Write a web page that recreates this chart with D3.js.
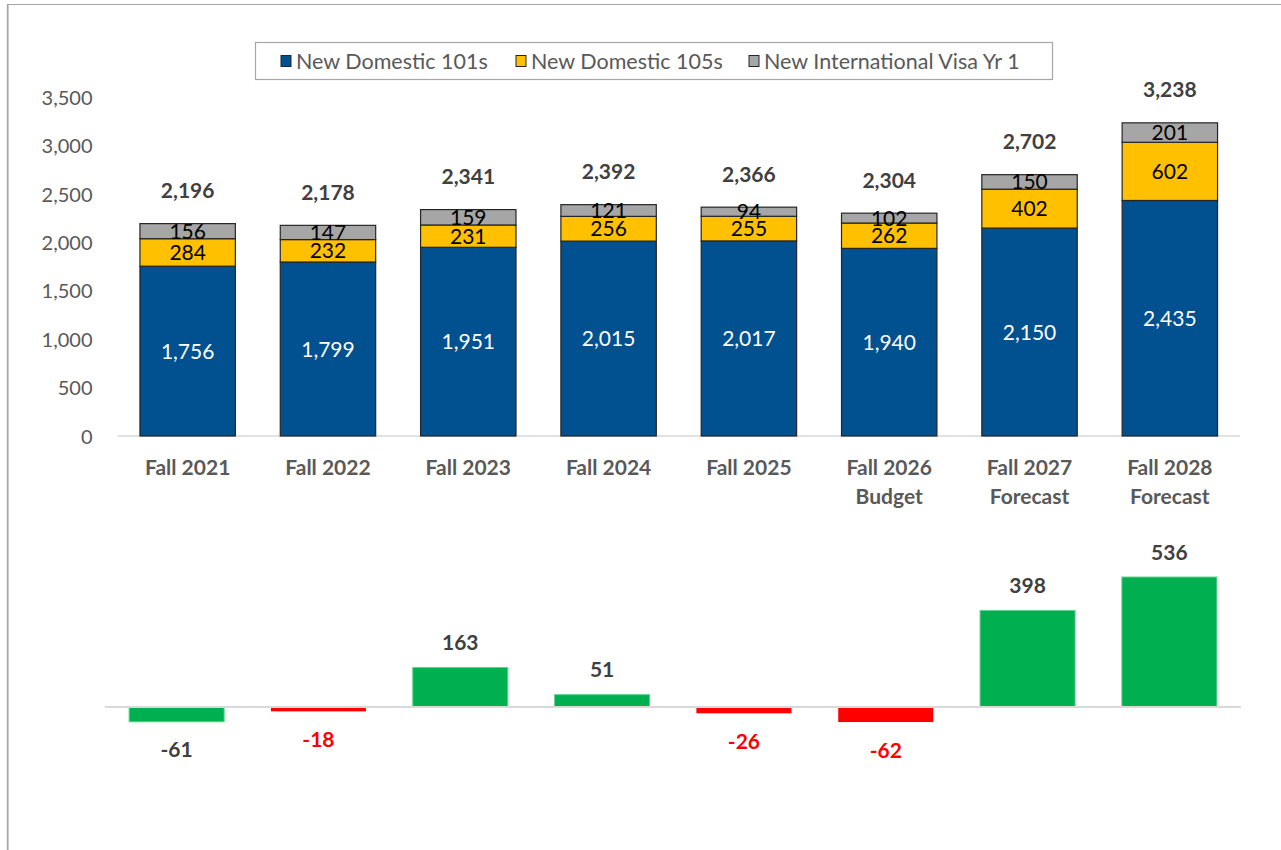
<!DOCTYPE html>
<html>
<head>
<meta charset="utf-8">
<script src="https://cdn.jsdelivr.net/npm/d3@7"></script>
<style>
  body { margin: 0; background: #fff; }
  svg text { font-family: Lato, "Open Sans", sans-serif; }
</style>
</head>
<body>
<div id="chart"></div>
<script>
// Data
var categories = [
    ["Fall 2021"], ["Fall 2022"], ["Fall 2023"], ["Fall 2024"], ["Fall 2025"],
    ["Fall 2026", "Budget"], ["Fall 2027", "Forecast"], ["Fall 2028", "Forecast"]
];
var seriesNames = ["New Domestic 101s", "New Domestic 105s", "New International Visa Yr 1"];
var domestic101 = [1756, 1799, 1951, 2015, 2017, 1940, 2150, 2435];
var domestic105 = [284, 232, 231, 256, 255, 262, 402, 602];
var international = [156, 147, 159, 121, 94, 102, 150, 201];
var totals = [2196, 2178, 2341, 2392, 2366, 2304, 2702, 3238];
var yearChange = [-61, -18, 163, 51, -26, -62, 398, 536];
var yTicks = [0, 500, 1000, 1500, 2000, 2500, 3000, 3500];

var colors = ["#01508f", "#ffc000", "#a6a6a6"];
var labelColors = ["#ffffff", "#000000", "#000000"];

var width = 1281, height = 850;

var svg = d3.select("#chart").append("svg")
    .attr("width", width)
    .attr("height", height);

// Outer frame (only left and top edges are visible)
svg.append("line").attr("x1", 7.5).attr("x2", 1281).attr("y1", 4.5).attr("y2", 4.5)
    .attr("stroke", "#a6a6a6").attr("stroke-width", 1.2);
svg.append("line").attr("x1", 7.7).attr("x2", 7.7).attr("y1", 4).attr("y2", 850)
    .attr("stroke", "#a6a6a6").attr("stroke-width", 1.8);

// ---------- Top stacked chart ----------
var idx = d3.range(categories.length);

var x = d3.scaleBand()
    .domain(idx)
    .range([117.5, 1240])
    .paddingInner(0.32)
    .paddingOuter(0.16);

var y = d3.scaleLinear()
    .domain([0, 3500])
    .range([436, 97.5]);

var rows = idx.map(i => ({ i: i, a: domestic101[i], b: domestic105[i], c: international[i] }));
var stack = d3.stack().keys(["a", "b", "c"])(rows);

// y axis labels only
var yAxis = svg.append("g")
    .attr("transform", "translate(117.5,0)")
    .call(d3.axisLeft(y).tickValues(yTicks).tickFormat(d3.format(",")).tickSize(0).tickPadding(25));
yAxis.select(".domain").remove();
yAxis.selectAll("text")
    .attr("font-size", 20)
    .attr("fill", "#595959")
    .attr("dy", "0.35em");

// baseline
svg.append("line")
    .attr("x1", 117.5).attr("x2", 1240)
    .attr("y1", y(0)).attr("y2", y(0))
    .attr("stroke", "#d9d9d9").attr("stroke-width", 1.5);

var layers = svg.selectAll(".layer")
    .data(stack)
    .enter().append("g")
    .attr("class", "layer");

layers.selectAll("rect")
    .data((d, k) => d.map(p => ({ p: p, k: k })))
    .enter().append("rect")
    .attr("x", d => x(d.p.data.i))
    .attr("width", x.bandwidth())
    .attr("y", d => y(d.p[1]))
    .attr("height", d => y(d.p[0]) - y(d.p[1]))
    .attr("fill", d => colors[d.k])
    .attr("stroke", "#262626")
    .attr("stroke-width", 1.2);

layers.selectAll("text")
    .data((d, k) => d.map(p => ({ p: p, k: k })))
    .enter().append("text")
    .attr("x", d => x(d.p.data.i) + x.bandwidth() / 2)
    .attr("y", d => (y(d.p[0]) + y(d.p[1])) / 2)
    .attr("dy", "0.36em")
    .attr("text-anchor", "middle")
    .attr("font-size", 21)
    .attr("fill", d => labelColors[d.k])
    .text(d => d3.format(",")(d.p[1] - d.p[0]));

// totals above bars
svg.selectAll(".total")
    .data(totals)
    .enter().append("text")
    .attr("class", "total")
    .attr("x", (d, i) => x(i) + x.bandwidth() / 2)
    .attr("y", d => y(d) - 33)
    .attr("dy", "0.36em")
    .attr("text-anchor", "middle")
    .attr("font-size", 21)
    .attr("font-weight", "bold")
    .attr("fill", "#404040")
    .text(d => d3.format(",")(d));

// category labels
var catLabels = svg.selectAll(".cat")
    .data(categories)
    .enter().append("text")
    .attr("class", "cat")
    .attr("text-anchor", "middle")
    .attr("font-size", 21)
    .attr("font-weight", "bold")
    .attr("fill", "#595959");
catLabels.selectAll("tspan")
    .data((d, i) => d.map((t, j) => ({ t: t, j: j, i: i })))
    .enter().append("tspan")
    .attr("x", d => x(d.i) + x.bandwidth() / 2)
    .attr("y", d => 474.5 + d.j * 29)
    .text(d => d.t);

// legend
var legend = svg.append("g");
legend.append("rect")
    .attr("x", 255.5).attr("y", 42.5)
    .attr("width", 797).attr("height", 37)
    .attr("fill", "#fff")
    .attr("stroke", "#a6a6a6").attr("stroke-width", 1.2);
var legendX = [281, 516, 749];
seriesNames.forEach(function(name, k) {
    legend.append("rect")
        .attr("x", legendX[k]).attr("y", 55.5)
        .attr("width", 10).attr("height", 11)
        .attr("fill", colors[k])
        .attr("stroke", "#262626").attr("stroke-width", 1);
    legend.append("text")
        .attr("x", legendX[k] + 15).attr("y", 61)
        .attr("dy", "0.35em")
        .attr("font-size", 21.5)
        .attr("fill", "#595959")
        .text(name);
});

// ---------- Bottom change chart ----------
var x2 = d3.scaleBand()
    .domain(idx)
    .range([105, 1241])
    .paddingInner(0.33)
    .paddingOuter(0.17);

var y2 = d3.scaleLinear()
    .domain([0, 536])
    .range([707, 577]);

function changeFill(d, i) {
    return (i > 0 && d < 0) ? "#ff0000" : "#00b050";
}

svg.selectAll(".chg")
    .data(yearChange)
    .enter().append("rect")
    .attr("class", "chg")
    .attr("x", (d, i) => x2(i))
    .attr("width", x2.bandwidth())
    .attr("y", d => Math.min(y2(d), y2(0)))
    .attr("height", d => Math.abs(y2(d) - y2(0)))
    .attr("fill", changeFill)
    .attr("stroke", (d, i) => changeFill(d, i) === "#00b050" ? "#5fd38c" : "none")
    .attr("stroke-width", 1);

svg.append("line")
    .attr("x1", 105).attr("x2", 1241)
    .attr("y1", y2(0)).attr("y2", y2(0))
    .attr("stroke", "#d9d9d9").attr("stroke-width", 1.8);

svg.selectAll(".chgLabel")
    .data(yearChange)
    .enter().append("text")
    .attr("class", "chgLabel")
    .attr("x", (d, i) => x2(i) + x2.bandwidth() / 2)
    .attr("y", d => d >= 0 ? y2(d) - 25 : y2(d) + 28)
    .attr("dy", "0.36em")
    .attr("text-anchor", "middle")
    .attr("font-size", 21)
    .attr("font-weight", "bold")
    .attr("fill", (d, i) => changeFill(d, i) === "#ff0000" ? "#ff0000" : "#404040")
    .text(d => d);
</script>
</body>
</html>
